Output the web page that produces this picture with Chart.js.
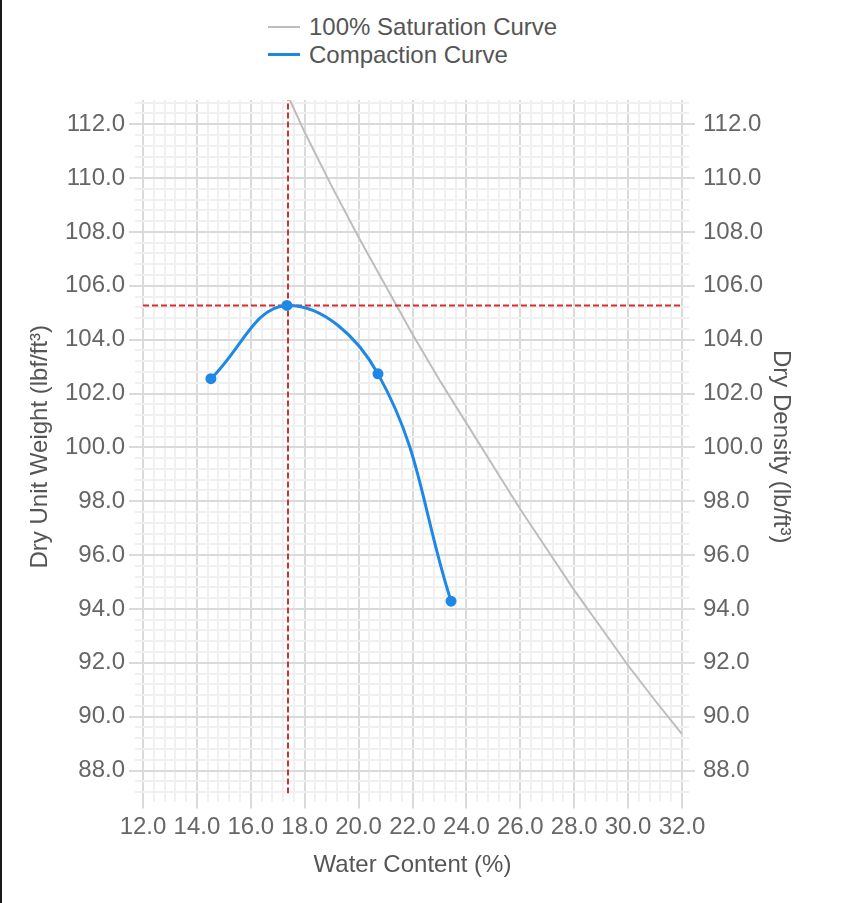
<!DOCTYPE html>
<html>
<head>
<meta charset="utf-8">
<script src="https://cdn.jsdelivr.net/npm/chart.js@4"></script>
<style>
  body { margin: 0; background: #fff; }
  #wrap { position: relative; width: 846px; height: 903px; background: #fff; }
  #edge { position: absolute; left: 0; top: 0; width: 2px; height: 903px; background: #1a1a1a; }
  #legend { position: absolute; left: 268px; top: 13px; font: 24px 'Liberation Sans', Arial, sans-serif; color: #555; line-height: 28px; }
  #legend .row { white-space: nowrap; }
  #legend .swatch { display: inline-block; width: 32px; vertical-align: middle; margin-right: 9px; position: relative; top: -2px; }
  #box { position: absolute; left: 2px; top: 75px; width: 844px; height: 828px; }
</style>
</head>
<body>
<div id="wrap">
  <div id="edge"></div>
  <div id="legend"></div>
  <div id="box"><canvas id="chart"></canvas></div>
</div>
<script>
// compaction test points
const waterContent = [14.52, 17.34, 20.72, 23.43];
const dryUnitWeight = [102.55, 105.27, 102.73, 94.29];

// 100% saturation (zero air voids) curve
const satWater = [17.45, 18, 19, 20, 21, 22, 23, 24, 25, 26, 27, 28, 29, 30, 31, 32];
const satUnitWeight = [112.9, 111.7, 109.7, 107.8, 106.0, 104.2, 102.5, 100.9, 99.3, 97.7, 96.2, 94.7, 93.3, 91.9, 90.6, 89.35];

// optimum water content / max dry unit weight
const optimumWater = 17.38;
const maxDryUnitWeight = 105.27;

// axis ranges
const xMin = 12, xMax = 32;
const yMin = 87.15, yMax = 112.9;
const majorStep = 2, minorStep = 0.4;

const MAJOR_GRID = '#dadada';
const MINOR_GRID = '#f0f0f0';
const TICK_COLOR = '#666';
const TITLE_COLOR = '#555';
const FONT = { family: "'Liberation Sans', Arial, sans-serif", size: 24 };

Chart.defaults.font.family = FONT.family;
Chart.defaults.font.size = 24;

const isMajor = v => Math.abs(v / majorStep - Math.round(v / majorStep)) < 1e-6;
const gridColor = ctx => (ctx.tick && isMajor(ctx.tick.value)) ? MAJOR_GRID : MINOR_GRID;

function toPoints(xs, ys) {
  return xs.map((x, i) => ({ x: x, y: ys[i] }));
}

function majorAxis(position, min, max, tickLength, title, titlePadding, tickPadding, width) {
  const axis = {
    type: 'linear', position: position, min: min, max: max, weight: 1,
    ticks: { stepSize: majorStep, includeBounds: false, color: TICK_COLOR, font: FONT,
             padding: tickPadding, autoSkip: false, maxRotation: 0,
             callback: v => Number(v).toFixed(1) },
    grid: { drawOnChartArea: false, tickLength: tickLength, tickColor: MAJOR_GRID, tickWidth: 2, lineWidth: 2, color: MAJOR_GRID },
    border: { display: false },
    title: { display: true, text: title, color: TITLE_COLOR, font: FONT, padding: titlePadding }
  };
  // the layout caps side boxes at a quarter of half the width, so set it back
  if (width) axis.afterFit = scale => { scale.width = width; };
  return axis;
}

function minorAxis(position, min, max, tickLength, onChart) {
  return {
    type: 'linear', position: position, min: min, max: max, weight: 0,
    ticks: { display: false, stepSize: minorStep, includeBounds: false, autoSkip: false },
    grid: { drawOnChartArea: onChart, tickLength: tickLength, color: gridColor, tickColor: gridColor, lineWidth: 2, tickWidth: 2 },
    border: { display: false }
  };
}

const datasets = [
  {
    label: '100% Saturation Curve',
    data: toPoints(satWater, satUnitWeight),
    borderColor: '#bdbdbd',
    backgroundColor: '#bdbdbd',
    borderWidth: 2,
    pointRadius: 0,
    tension: 0,
    inLegend: true,
    order: 3
  },
  {
    label: 'Optimum water content',
    data: [{ x: optimumWater, y: yMin }, { x: optimumWater, y: yMax }],
    borderColor: '#d32f2f',
    borderWidth: 2,
    borderDash: [6, 3],
    pointRadius: 0,
    order: 2
  },
  {
    label: 'Maximum dry unit weight',
    data: [{ x: xMin, y: maxDryUnitWeight }, { x: xMax, y: maxDryUnitWeight }],
    borderColor: '#d32f2f',
    borderWidth: 2,
    borderDash: [6, 3],
    pointRadius: 0,
    order: 2
  },
  {
    label: 'Compaction Curve',
    data: toPoints(waterContent, dryUnitWeight),
    borderColor: '#1e88e5',
    backgroundColor: '#1e88e5',
    borderWidth: 3,
    pointRadius: 4,
    pointHoverRadius: 4,
    tension: 0.4,
    inLegend: true,
    order: 1
  }
];

const chart = new Chart(document.getElementById('chart'), {
  type: 'line',
  data: { datasets: datasets },
  options: {
    responsive: true,
    maintainAspectRatio: false,
    animation: false,
    layout: { padding: { left: 20, right: 47, top: 25, bottom: 19 } },
    plugins: { legend: { display: false }, tooltip: { enabled: false } },
    scales: {
      x: majorAxis('bottom', xMin, xMax, 7, 'Water Content (%)', { top: 4, bottom: 4 }, 5),
      xMinor: minorAxis('bottom', xMin, xMax, 8, true),
      y: majorAxis('left', yMin, yMax, 6, 'Dry Unit Weight (lbf/ft³)', { top: 4, bottom: 10 }, 4, 113),
      yMinor: minorAxis('left', yMin, yMax, 8, true),
      y2: majorAxis('right', yMin, yMax, 6, 'Dry Density (lb/ft³)', { top: 4, bottom: 3 }, 8, 110),
      y2Minor: minorAxis('right', yMin, yMax, 7, false)
    }
  }
});

// html legend built from the datasets
const legend = document.getElementById('legend');
chart.data.datasets.filter(d => d.inLegend).forEach(d => {
  const row = document.createElement('div');
  row.className = 'row';
  const sw = document.createElement('span');
  sw.className = 'swatch';
  sw.style.borderTop = d.borderWidth + 'px solid ' + d.borderColor;
  row.appendChild(sw);
  row.appendChild(document.createTextNode(d.label));
  legend.appendChild(row);
});
</script>
</body>
</html>
